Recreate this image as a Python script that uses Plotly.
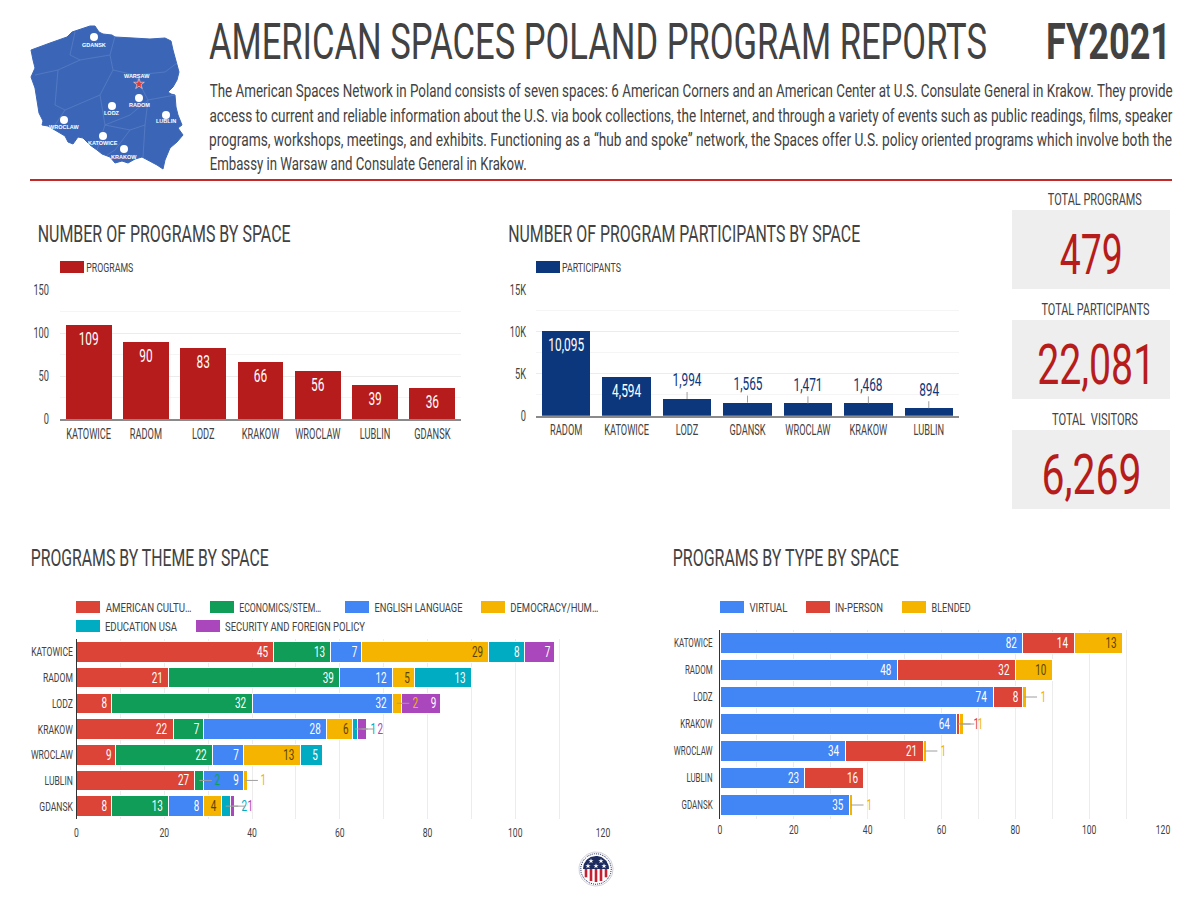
import json
import numpy as np
import plotly.graph_objects as go

# DATA
program_spaces = ['KATOWICE', 'RADOM', 'LODZ', 'KRAKOW', 'WROCLAW', 'LUBLIN', 'GDANSK']
programs = [109, 90, 83, 66, 56, 39, 36]

participant_spaces = ['RADOM', 'KATOWICE', 'LODZ', 'GDANSK', 'WROCLAW', 'KRAKOW', 'LUBLIN']
participants = [10095, 4594, 1994, 1565, 1471, 1468, 894]
participant_ticks = [0, 5000, 10000, 15000]
participant_ticktext = ['0', '5K', '10K', '15K']

theme_names = ['AMERICAN CULTURE', 'ECONOMICS/STEM', 'ENGLISH LANGUAGE', 'DEMOCRACY/HUMAN RIGHTS',
               'EDUCATION USA', 'SECURITY AND FOREIGN POLICY']
theme_american = [45, 21, 8, 22, 9, 27, 8]
theme_economics = [13, 39, 32, 7, 22, 2, 13]
theme_english = [7, 12, 32, 28, 7, 9, 8]
theme_democracy = [29, 5, 2, 6, 13, 1, 4]
theme_education = [8, 13, 0, 1, 5, 0, 2]
theme_security = [7, 0, 9, 2, 0, 0, 1]

type_names = ['VIRTUAL', 'IN-PERSON', 'BLENDED']
type_virtual = [82, 48, 74, 64, 34, 23, 35]
type_inperson = [14, 32, 8, 1, 21, 16, 0]
type_blended = [13, 10, 1, 1, 1, 0, 1]

# map of Poland
map_x = [31, 36, 50, 67, 72, 90, 95, 99, 103, 112, 115, 133, 150, 165, 171, 173, 177, 179, 177, 173, 168, 171, 175,
         176, 178, 182, 178, 183, 177, 170, 165, 163, 157, 148, 142, 135, 128, 122, 115, 110, 102, 97, 90, 83, 78,
         73, 68, 65, 55, 48, 42, 43, 39, 37, 35, 31, 35, 33, 31]
map_y = [50, 48, 43, 37, 32, 26, 26, 32, 34, 35, 37, 38, 39, 38, 41, 50, 63, 72, 80, 87, 92, 94, 95,
         107, 115, 125, 128, 135, 142, 148, 160, 169, 165, 160, 157, 159, 163, 161, 163, 157, 154, 150, 145, 138, 137,
         144, 142, 136, 130, 126, 125, 121, 113, 100, 88, 77, 68, 60, 50]
border_x = [75, 70, 80, 110, 115, None, 110, 113, 135, 165, 177, None, 35, 58, 80, None, 58, 55, 65, 100, 113, None,
            100, 105, 97, None, 65, 53, None, 105, 130, 148, 135, None, 148, 175, None, 148, 145, 130, 105, None,
            145, 143, None, 130, 115, 107]
border_y = [32, 55, 60, 55, 36, None, 55, 70, 75, 72, 63, None, 75, 70, 60, None, 70, 105, 110, 95, 70, None,
            95, 125, 150, None, 110, 128, None, 125, 115, 100, 75, None, 100, 95, None, 100, 125, 130, 125, None,
            125, 157, None, 130, 150, 155]
city_names = ['GDANSK', 'RADOM', 'LODZ', 'LUBLIN', 'WROCLAW', 'KATOWICE', 'KRAKOW']
city_x = [94, 139, 112, 166, 64, 103, 124]
city_y = [37, 98, 106, 115, 120, 136, 149]
city_label_y = [45, 105, 113, 121, 127, 143, 157]

totals = ['479', '22,081', '6,269']

INK = '#424242'
RED = '#b71c1c'
NAVY = '#0d377c'
GRID = '#ececec'
FONT = 'Roboto'
THEME_COLORS = ['#db4437', '#0f9d58', '#4285f4', '#f4b400', '#00acc1', '#ab47bc']
TYPE_COLORS = ['#4285f4', '#db4437', '#f4b400']
YELLOW_TEXT = '#5a4300'

W, H = 1200, 899


def dom_x(l, r):
    return [l / W, r / W]


def dom_y(top, bottom):
    return [1 - bottom / H, 1 - top / H]


fig = go.Figure()
annotations = []
shapes = []
span_widths = {}  # text -> width in px, squeezed to fit in the browser


def page_text(text, left, right, y, size, color=INK, weight=400):
    span_widths[text] = right - left
    annotations.append(dict(text=text, x=(left + right) / 2, y=y, xref='x5', yref='y5', showarrow=False,
                            xanchor='center', yanchor='middle',
                            font=dict(family=FONT, size=size, color=color, weight=weight)))


def swatch(left, y, color):
    shapes.append(dict(type='rect', xref='x5', yref='y5', x0=left, x1=left + 24, y0=y - 6, y1=y + 6,
                       fillcolor=color, line=dict(width=0)))


def stacked(series, names, colors, cats, xa, ya, limit):
    # labels for the thin segments go outside on a leader line
    left = np.zeros(len(cats))
    for vals, name, color in zip(series, names, colors):
        dark = color == '#f4b400'
        text = ['' if v <= limit else str(v) for v in vals]
        fig.add_trace(go.Bar(y=cats, x=vals, name=name, orientation='h', xaxis=xa, yaxis=ya, text=text,
                             textposition='inside', insidetextanchor='end', textangle=0, constraintext='none',
                             insidetextfont=dict(family=FONT, size=15, color=YELLOW_TEXT if dark else 'white'),
                             marker=dict(color=color, line=dict(color='white', width=1)), showlegend=False))
        for i, v in enumerate(vals):
            if 0 < v <= limit:
                annotations.append(dict(text=str(v), x=left[i] + v / 2, y=cats[i], xref=xa, yref=ya, ax=18, ay=0,
                                        showarrow=True, arrowhead=0, arrowwidth=1, arrowcolor='#9e9e9e', standoff=0,
                                        font=dict(family=FONT, size=15, color=color)))
        left += np.array(vals)


# column charts
fig.add_trace(go.Bar(x=program_spaces, y=programs, xaxis='x', yaxis='y', marker_color=RED, text=programs,
                     textposition='inside', insidetextanchor='end', textangle=0, constraintext='none',
                     insidetextfont=dict(family=FONT, size=18, color='white'), showlegend=False))

part_text = [f'{v:,}' if v > 4000 else '' for v in participants]
fig.add_trace(go.Bar(x=participant_spaces, y=participants, xaxis='x2', yaxis='y2', marker_color=NAVY, text=part_text,
                     textposition='inside', insidetextanchor='end', textangle=0, constraintext='none',
                     insidetextfont=dict(family=FONT, size=18, color='white'), showlegend=False))
for cat, v in zip(participant_spaces, participants):
    if v <= 4000:
        annotations.append(dict(text=f'{v:,}', x=cat, y=v, xref='x2', yref='y2', ax=0, ay=-19, showarrow=True,
                                arrowhead=0, arrowwidth=1, arrowcolor='#9e9e9e', standoff=0,
                                font=dict(family=FONT, size=18, color=NAVY)))

# stacked bars
stacked([theme_american, theme_economics, theme_english, theme_democracy, theme_education, theme_security],
        theme_names, THEME_COLORS, program_spaces, 'x3', 'y3', 2)
stacked([type_virtual, type_inperson, type_blended], type_names, TYPE_COLORS, program_spaces, 'x4', 'y4', 1)

# map and logo live on a full page axis that counts in pixels
fig.add_trace(go.Scatter(x=map_x, y=map_y, fill='toself', fillcolor='#3b66b7', mode='lines',
                         line=dict(color='#3b66b7', width=1), xaxis='x5', yaxis='y5', showlegend=False))
fig.add_trace(go.Scatter(x=border_x, y=border_y, mode='lines', line=dict(color='#5c80c6', width=0.7),
                         xaxis='x5', yaxis='y5', showlegend=False))
fig.add_trace(go.Scatter(x=city_x, y=city_y, mode='markers', marker=dict(color='white', size=8),
                         xaxis='x5', yaxis='y5', showlegend=False))
fig.add_trace(go.Scatter(x=[139], y=[84], mode='markers', marker=dict(color='#e53935', size=8, symbol='star',
                                                                     line=dict(color='white', width=0.5)),
                         xaxis='x5', yaxis='y5', showlegend=False))
for name, x, y in zip(city_names + ['WARSAW'], city_x + [137], city_label_y + [76]):
    annotations.append(dict(text=name, x=x, y=y, xref='x5', yref='y5', showarrow=False,
                            font=dict(family='Liberation Sans', size=5.5, color='white', weight=700)))

logo_t = np.linspace(0, 2 * np.pi, 61)
fig.add_trace(go.Scatter(x=596 + 17 * np.cos(logo_t), y=869 + 17 * np.sin(logo_t), mode='lines', fill='toself',
                         fillcolor='white', line=dict(color='#c4c4cc', width=0.8), xaxis='x5', yaxis='y5',
                         showlegend=False))
fig.add_trace(go.Scatter(x=596 + 15.3 * np.cos(logo_t), y=869 + 15.3 * np.sin(logo_t), mode='lines',
                         line=dict(color='#1c2a5e', width=1, dash='1px,1px'), xaxis='x5', yaxis='y5', showlegend=False))
top_t = np.linspace(np.pi, 2 * np.pi, 31)
fig.add_trace(go.Scatter(x=596 + 13 * np.cos(top_t), y=869 + 13 * np.sin(top_t), mode='lines', fill='toself',
                         fillcolor='#1c2a5e', line=dict(width=0), xaxis='x5', yaxis='y5', showlegend=False))
for dx in [-10, -5, 0, 5, 10]:
    shapes.append(dict(type='line', xref='x5', yref='y5', x0=596 + dx, x1=596 + dx, y0=869,
                       y1=869 + (13 ** 2 - dx ** 2) ** 0.5, line=dict(color='#c62033', width=2.6), layer='above'))
fig.add_trace(go.Scatter(x=[588, 596, 604, 591, 601], y=[866, 866, 866, 861, 861], mode='markers',
                         marker=dict(color='white', size=4, symbol='star'), xaxis='x5', yaxis='y5', showlegend=False))

# header
page_text('AMERICAN SPACES POLAND PROGRAM REPORTS', 209, 987, 42, 50)
page_text('FY2021', 1046, 1171, 42, 50, weight=700)
page_text('The American Spaces Network in Poland consists of seven spaces: 6 American Corners and an American Center '
          'at U.S. Consulate General in Krakow. They provide', 209, 1172, 90, 18)
page_text('access to current and reliable information about the U.S. via book collections, the Internet, and through '
          'a variety of events such as public readings, films, speaker', 209, 1172, 115, 18)
page_text('programs, workshops, meetings, and exhibits. Functioning as a “hub and spoke” network, the Spaces offer '
          'U.S. policy oriented programs which involve both the', 209, 1172, 139, 18)
page_text('Embassy in Warsaw and Consulate General in Krakow.', 209, 526, 163, 18)
shapes.append(dict(type='line', xref='x5', yref='y5', x0=30, x1=1172, y0=180, y1=180,
                   line=dict(color='#c62828', width=2)))

# section titles
page_text('NUMBER OF PROGRAMS BY SPACE', 37, 290, 234, 24)
page_text('NUMBER OF PROGRAM PARTICIPANTS BY SPACE', 508, 860, 234, 24)
page_text('PROGRAMS BY THEME BY SPACE', 30, 268, 558, 24)
page_text('PROGRAMS BY TYPE BY SPACE', 673, 899, 558, 24)

# totals
for label, lx0, lx1, ly, top, val, vx0, vx1 in zip(
        ['TOTAL PROGRAMS', 'TOTAL PARTICIPANTS', 'TOTAL  VISITORS'], [1048, 1041, 1052], [1142, 1149, 1138],
        [199, 309, 419], [210, 320, 430], totals, [1059, 1037, 1041], [1122, 1155, 1141]):
    shapes.append(dict(type='rect', xref='x5', yref='y5', x0=1012, x1=1170, y0=top, y1=top + 79,
                       fillcolor='#eeeeee', line=dict(width=0), layer='below'))
    page_text(label, lx0, lx1, ly, 16)
    page_text(val, vx0, vx1, top + 45, 56, color=RED)

# legends
swatch(60, 267, RED)
page_text('PROGRAMS', 86, 133, 267, 13)
swatch(536, 267, NAVY)
page_text('PARTICIPANTS', 562, 621, 267, 13)

theme_legend = ['AMERICAN CULTU…', 'ECONOMICS/STEM…', 'ENGLISH LANGUAGE', 'DEMOCRACY/HUM…', 'EDUCATION USA',
                'SECURITY AND FOREIGN POLICY']
for label, color, sw, x1, y in zip(theme_legend, THEME_COLORS, [76, 210, 345, 481, 76, 196],
                                   [191, 321, 462, 598, 177, 365], [607, 607, 607, 607, 626, 626]):
    swatch(sw, y, color)
    page_text(label, sw + 29, x1, y, 13)
for label, color, sw, x1 in zip(type_names, TYPE_COLORS, [720, 806, 902], [787, 883, 970]):
    swatch(sw, 607, color)
    page_text(label, sw + 29, x1, 607, 13)

tick_font = dict(family=FONT, size=13, color=INK)
col_font = dict(family=FONT, size=14, color=INK)
fig.update_layout(
    template='none', width=W, height=H, margin=dict(l=0, r=0, t=0, b=0, autoexpand=False), paper_bgcolor='white',
    plot_bgcolor='rgba(0,0,0,0)', barmode='stack', bargap=0.2, showlegend=False, annotations=annotations, shapes=shapes,
    xaxis=dict(domain=dom_x(60, 461), anchor='y', tickfont=col_font, tickangle=0, showgrid=False, showline=True,
               linecolor='#8a8a8a', linewidth=1.5, ticks='', ticklabelstandoff=1),
    yaxis=dict(domain=dom_y(290, 419), anchor='x', range=[0, 150], dtick=50, tickfont=col_font, ticks='',
               ticklabelstandoff=10, showline=False, gridcolor=GRID, zeroline=False,
               minor=dict(dtick=25, showgrid=True, gridcolor='#f5f5f5')),
    xaxis2=dict(domain=dom_x(536, 959), anchor='y2', tickfont=col_font, tickangle=0, showgrid=False, showline=True,
                linecolor='#8a8a8a', linewidth=1.5, ticks='', ticklabelstandoff=1),
    yaxis2=dict(domain=dom_y(290, 415.7), anchor='x2', range=[0, 15000], tickvals=participant_ticks,
                ticktext=participant_ticktext, tickfont=col_font, ticks='', ticklabelstandoff=9, showline=False,
                gridcolor=GRID, zeroline=False, minor=dict(dtick=2500, showgrid=True, gridcolor='#f5f5f5')),
    xaxis3=dict(domain=dom_x(76.5, 603), anchor='y3', range=[0, 120], dtick=20, tickfont=tick_font, ticks='',
                ticklabelstandoff=4, showline=False, gridcolor=GRID, zeroline=False,
                minor=dict(dtick=10, showgrid=True, gridcolor=GRID)),
    yaxis3=dict(domain=dom_y(639, 819), anchor='x3', autorange='reversed', tickfont=tick_font, showgrid=False,
                showline=True, linecolor='#333333', linewidth=1, ticks=''),
    xaxis4=dict(domain=dom_x(720, 1163), anchor='y4', range=[0, 120], dtick=20, tickfont=tick_font, ticks='',
                ticklabelstandoff=1, showline=False, gridcolor=GRID, zeroline=False,
                minor=dict(dtick=10, showgrid=True, gridcolor=GRID)),
    yaxis4=dict(domain=dom_y(629.5, 818.5), anchor='x4', autorange='reversed',
                tickfont=dict(family=FONT, size=12, color=INK), ticklabelstandoff=4, showgrid=False,
                showline=True, linecolor='#333333', linewidth=1, ticks=''),
    xaxis5=dict(domain=[0, 1], anchor='y5', range=[0, W], visible=False, fixedrange=True),
    yaxis5=dict(domain=[0, 1], anchor='x5', range=[H, 0], visible=False, fixedrange=True),
)

# squeeze the font down to the condensed look of the original
post_script = """
document.body.style.margin = '0';
document.documentElement.style.overflow = 'hidden';
var spans = %s;
document.querySelectorAll('.main-svg text').forEach(function (t) {
    if (!t.style.fontFamily.includes('Roboto') || !t.textContent) return;
    var w = spans[t.textContent];
    if (t.classList.contains('annotation-text') && w) {
        t.setAttribute('textLength', w);
    } else {
        t.setAttribute('textLength', t.getComputedTextLength() * 0.66);
    }
    t.setAttribute('lengthAdjust', 'spacingAndGlyphs');
});
""" % json.dumps(span_widths, ensure_ascii=False)

fig.write_html("out.html", post_script=post_script, config=dict(displayModeBar=False))
